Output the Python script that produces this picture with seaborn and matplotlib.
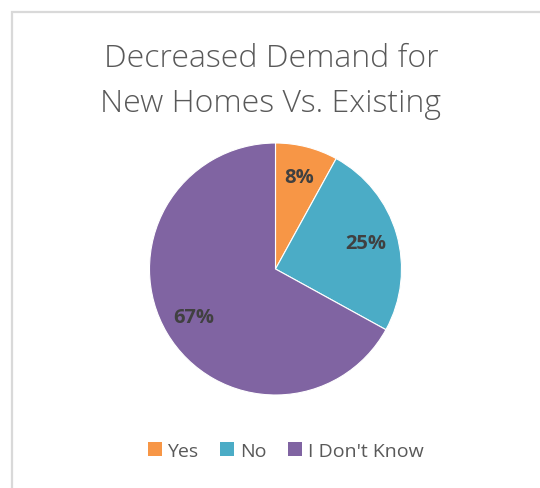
import matplotlib
matplotlib.use("Agg")
import matplotlib.pyplot as plt
from matplotlib.patches import Patch, Rectangle
import seaborn as sns

categories = ["Yes", "No", "I Don't Know"]
values = [8, 25, 67]
colors = ["#F79646", "#4BACC6", "#8064A2"]
title_lines = ["Decreased Demand for", "New Homes Vs. Existing"]

sns.set_theme(style="white")
plt.rcParams["font.family"] = ["Open Sans", "DejaVu Sans"]

W, H = 540, 489
fig = plt.figure(figsize=(W / 100, H / 100), dpi=100)
fig.patch.set_facecolor("white")

# chart border
fig.patches.append(Rectangle((11.5 / W, -0.1), 2, 1.1 - 12.5 / H,
                             transform=fig.transFigure, fill=False,
                             edgecolor="#D9D9D9", linewidth=1.6))

cx, cy, r = 275.5, 270, 126
ax = fig.add_axes([(cx - r) / W, (H - cy - r) / H, 2 * r / W, 2 * r / H])
wedges, texts, autotexts = ax.pie(
    values, colors=colors, startangle=90, counterclock=False,
    autopct=lambda p: f"{p:.0f}%", pctdistance=0.75,
    wedgeprops=dict(edgecolor="white", linewidth=0.8),
    textprops=dict(color="#404040", fontsize=14.5, fontweight="bold"))
ax.set_aspect("equal")
ax.set_xlim(-1, 1)
ax.set_ylim(-1, 1)
ax.axis("off")

fig.text(271 / W, 1 - 67 / H, title_lines[0], ha="center", va="baseline",
         fontsize=23, color="#595959", fontweight="light")
fig.text(271 / W, 1 - 112 / H, title_lines[1], ha="center", va="baseline",
         fontsize=23, color="#595959", fontweight="light")

handles = [Patch(facecolor=c, edgecolor="none") for c in colors]
fig.legend(handles, categories, loc="center", ncol=3,
           bbox_to_anchor=(285.5 / W, 1 - 452 / H), frameon=False,
           fontsize=14, labelcolor="#595959", handlelength=0.72,
           handleheight=0.7, handletextpad=0.3, columnspacing=1.1,
           borderpad=0.2)

fig.savefig("out.png", dpi=100)
